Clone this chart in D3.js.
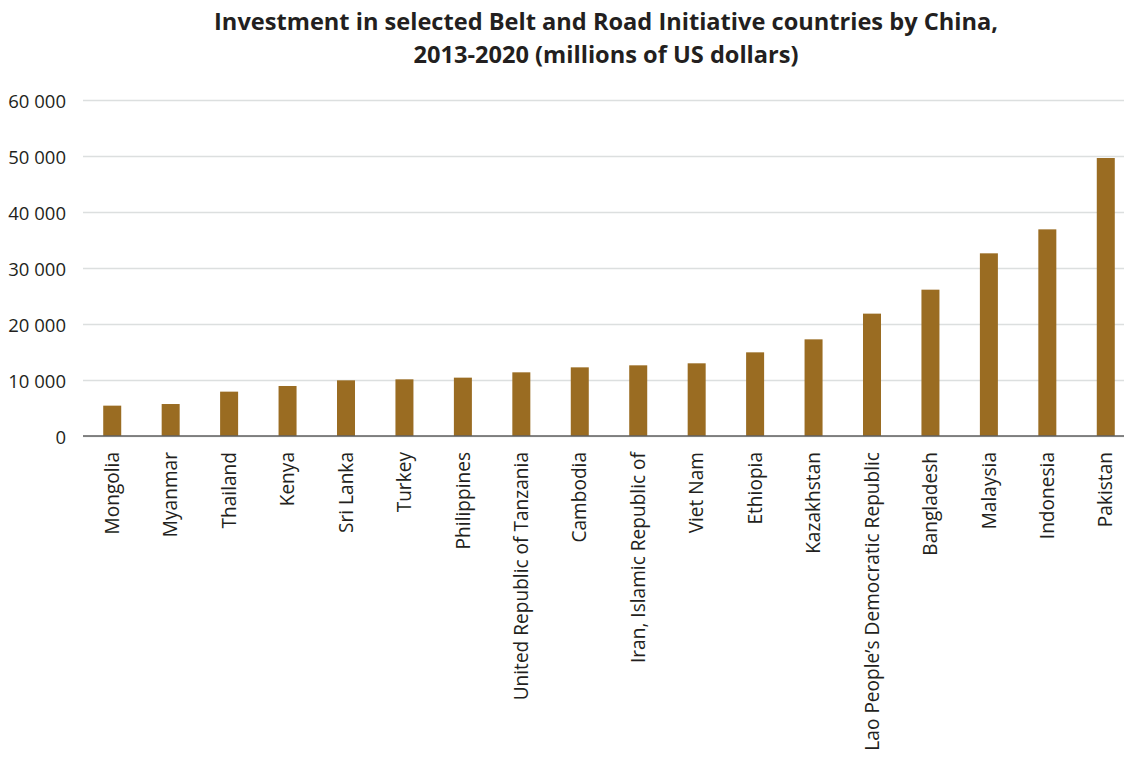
<!DOCTYPE html>
<html>
<head>
<meta charset="utf-8">
<script src="https://cdn.jsdelivr.net/npm/d3@7"></script>
<style>
  html, body { margin: 0; padding: 0; background: #fff; }
  svg { display: block; }
  text { font-family: "Open Sans", "Noto Sans", sans-serif; }
</style>
</head>
<body>
<svg id="chart" width="1124" height="757"></svg>
<script>
// Chinese investment in selected BRI countries, 2013-2020 (USD millions)
const countries = [
  "Mongolia", "Myanmar", "Thailand", "Kenya", "Sri Lanka", "Turkey",
  "Philippines", "United Republic of Tanzania", "Cambodia",
  "Iran, Islamic Republic of", "Viet Nam", "Ethiopia", "Kazakhstan",
  "Lao People\u2019s Democratic Republic", "Bangladesh", "Malaysia",
  "Indonesia", "Pakistan"
];
const investment = [
  5420, 5710, 7920, 8930, 9940, 10120,
  10420, 11370, 12260,
  12620, 12980, 14940, 17260,
  21850, 26130, 32620,
  36900, 49640
];
const yTicks = [0, 10000, 20000, 30000, 40000, 50000, 60000];
const titleLines = [
  "Investment in selected Belt and Road Initiative countries by China,",
  "2013-2020 (millions of US dollars)"
];

const svg = d3.select("#chart");
const W = 1124;
const plotLeft = 83, plotRight = 1135, plotTop = 100, plotBottom = 436;

const x = d3.scaleBand()
  .domain(countries)
  .range([plotLeft, plotRight])
  .paddingInner(0.692)
  .paddingOuter(0.346);

const y = d3.scaleLinear()
  .domain([0, 60000])
  .range([plotBottom, plotTop]);

const fmt = v => d3.format(",")(v).replace(/,/g, " ");

// Title
svg.append("g").selectAll("text")
  .data(titleLines)
  .join("text")
  .attr("x", 606)
  .attr("y", (d, i) => 30 + i * 32.5)
  .attr("text-anchor", "middle")
  .attr("font-size", 23.6)
  .attr("font-weight", 700)
  .attr("fill", "#231f20")
  .text(d => d);

// Horizontal gridlines + y labels
const yAxis = d3.axisLeft(y)
  .tickValues(yTicks)
  .tickSize(-(W - plotLeft))
  .tickPadding(17)
  .tickFormat(fmt);

const gy = svg.append("g")
  .attr("transform", `translate(${plotLeft},0)`)
  .call(yAxis);
gy.select(".domain").remove();
gy.selectAll(".tick line")
  .attr("stroke", "#dcdfdf")
  .attr("stroke-width", 1.3);
gy.selectAll(".tick text")
  .attr("font-size", 18.5)
  .attr("fill", "#231f20")
  .attr("dy", "0.42em");

// Bars
svg.append("g").selectAll("rect")
  .data(countries)
  .join("rect")
  .attr("x", d => x(d))
  .attr("width", x.bandwidth())
  .attr("y", (d, i) => y(investment[i]))
  .attr("height", (d, i) => y(0) - y(investment[i]))
  .attr("fill", "#9a6c22");

// Baseline
svg.append("line")
  .attr("x1", plotLeft).attr("x2", W)
  .attr("y1", y(0)).attr("y2", y(0))
  .attr("stroke", "#5f5f5f")
  .attr("stroke-width", 1.6);

// Rotated category labels
const xAxis = d3.axisBottom(x).tickSize(0).tickPadding(0);
const gx = svg.append("g")
  .attr("transform", `translate(0,${plotBottom})`)
  .call(xAxis);
gx.select(".domain").remove();
gx.selectAll(".tick text")
  .attr("font-size", 19.1)
  .attr("fill", "#231f20")
  .attr("text-anchor", "end")
  .attr("transform", "rotate(-90)")
  .attr("x", -16)
  .attr("y", 0)
  .attr("dy", "0.35em");
</script>
</body>
</html>
